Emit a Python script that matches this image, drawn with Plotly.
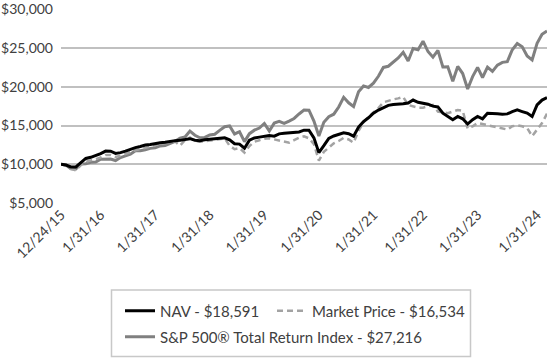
import pandas as pd
import plotly.graph_objects as go

# ---- data ----
dates = ["12/24/15"] + [f"{d.month}/{d.day}/{d.year % 100:02d}"
                        for d in pd.date_range("2015-12-31", "2024-01-31", freq="ME")]

nav = [10000, 9900, 9650, 9650, 10200, 10750, 10900, 11100, 11380, 11700,
       11680, 11400, 11500, 11700, 11940, 12150, 12300, 12480, 12550, 12700,
       12780, 12850, 12990, 13050, 13084, 13200, 13300, 13100, 13050, 13150,
       13211, 13300, 13380, 13414, 13150, 12650, 12600, 12069, 13100, 13400,
       13503, 13650, 13700, 13630, 13922, 13990, 14049, 14176, 14176, 14400,
       14400, 13414, 11500, 12400, 13350, 13650, 13850, 14049, 13950, 13630,
       14800, 15500, 16000, 16587, 17000, 17300, 17600, 17700, 17729, 17800,
       17900, 18287, 18000, 17900, 17750, 17500, 17400, 16587, 16168, 15750,
       16168, 15868, 15191, 15750, 16168, 15868, 16587, 16504, 16504, 16450,
       16504, 16800, 17011, 16801, 16600, 16168, 17653, 18287, 18591]

market = [10000, 9800, 9400, 9200, 9900, 10300, 10500, 10650, 10900, 11200,
          11200, 10950, 11100, 11350, 11600, 11800, 11950, 12150, 12350, 12500,
          12650, 12700, 12850, 12950, 12400, 13100, 13450, 13000, 12900, 12950,
          13050, 13150, 13250, 13350, 12400, 11950, 12100, 11510, 12350, 12900,
          13100, 13300, 13350, 13200, 13050, 12900, 12780, 13100, 13414, 13600,
          13350, 12600, 10472, 11600, 12200, 12700, 13000, 13414, 13200, 12780,
          14300, 15400, 16100, 16650, 17250, 17990, 18200, 18370, 18500, 18700,
          17650, 17500, 17310, 17310, 17500, 17650, 16800, 16700, 16590, 16800,
          17010, 16900, 14610, 14900, 15320, 15190, 15050, 14900, 14780, 14680,
          14480, 14900, 15030, 14900, 14680, 13630, 14480, 15320, 16534]

sp500 = [10000, 9900, 9410, 9400, 10030, 10070, 10250, 10280, 10660, 10680,
         10680, 10480, 10870, 11090, 11300, 11750, 11760, 11880, 12050, 12120,
         12370, 12410, 12670, 12960, 13360, 13510, 14280, 13750, 13410, 13460,
         13780, 13870, 14380, 14850, 14940, 13910, 14200, 12920, 13950, 14400,
         14680, 15270, 14300, 15310, 15530, 15290, 15570, 15910, 16490, 16990,
         16980, 15580, 13660, 15410, 16140, 16460, 17390, 18640, 17930, 17460,
         19370, 20110, 19910, 20460, 21360, 22500, 22650, 23180, 23730, 24450,
         23320, 24950, 24780, 25890, 24550, 23820, 24700, 22550, 22590, 20720,
         22630, 21710, 19710, 21310, 22500, 21200, 22530, 21980, 22790, 23150,
         23250, 24780, 25580, 25170, 23970, 23470, 25610, 26770, 27216]

y_ticks = [5000, 10000, 15000, 20000, 25000, 30000]
tick_labels = ["12/24/15", "1/31/16", "1/31/17", "1/31/18", "1/31/19",
               "1/31/20", "1/31/21", "1/31/22", "1/31/23", "1/31/24"]
tick_idx = [0, 8, 19, 30, 41, 52, 63, 73, 84, 96]

FONT = "Lato, 'Liberation Sans', sans-serif"
TXT = "#404040"
FS = 15

fig = go.Figure()
fig.add_trace(go.Scatter(
    x=dates, y=sp500, mode="lines",
    name=f"S&P 500® Total Return Index - ${sp500[-1]:,}",
    line=dict(color="#808080", width=3), legend="legend3"))
fig.add_trace(go.Scatter(
    x=dates, y=market, mode="lines",
    name=f"Market Price - ${market[-1]:,}",
    line=dict(color="#a3a3a3", width=2.5, dash="6px,4px"), legend="legend2"))
fig.add_trace(go.Scatter(
    x=dates, y=nav, mode="lines",
    name=f"NAV - ${nav[-1]:,}",
    line=dict(color="#000000", width=3), legend="legend"))

L, R, T, B = 61, 3, 9, 158
W, H = 550, 361
pw, ph = W - L - R, H - T - B


def px(x):
    return (x - L) / pw


def py(y):
    return (H - B - y) / ph


def leg(x, y):
    return dict(orientation="h", x=px(x), xanchor="left", y=py(y), yanchor="middle",
                bgcolor="rgba(0,0,0,0)", borderwidth=0,
                font=dict(family=FONT, size=FS, color=TXT))


fig.update_layout(
    width=W, height=H,
    margin=dict(l=L, r=R, t=T, b=B, autoexpand=False),
    paper_bgcolor="white", plot_bgcolor="white",
    font=dict(family=FONT, size=FS, color=TXT),
    showlegend=True,
    legend=leg(120, 311),
    legend2=leg(272, 311),
    legend3=leg(120, 337),
    shapes=[dict(type="rect", xref="paper", yref="paper",
                 x0=px(111.5), x1=px(470.5), y0=py(356.5), y1=py(290),
                 line=dict(color="#c8c8c8", width=1.5), fillcolor="rgba(0,0,0,0)")],
    xaxis=dict(type="category", range=[0, len(dates) - 1], showgrid=False, zeroline=False,
               showline=False, ticks="", tickangle=-45, tickmode="array",
               tickvals=[dates[i] for i in tick_idx], ticktext=tick_labels,
               tickfont=dict(family=FONT, size=14, color=TXT), ticklabelstandoff=0),
    yaxis=dict(range=[5000, 30040], tickmode="array",
               tickvals=y_ticks, ticktext=[f"${v:,}" for v in y_ticks],
               ticklabeloverflow="allow",
               showgrid=True, gridcolor="#c0c0c0", gridwidth=2, zeroline=False, showline=False,
               ticks="", tickfont=dict(family=FONT, size=14, color=TXT), ticklabelstandoff=7),
    hovermode="x unified",
)

fig.write_html("out.html", config={"displayModeBar": False},
               post_script="document.body.style.margin='0';document.body.style.overflow='hidden';")
